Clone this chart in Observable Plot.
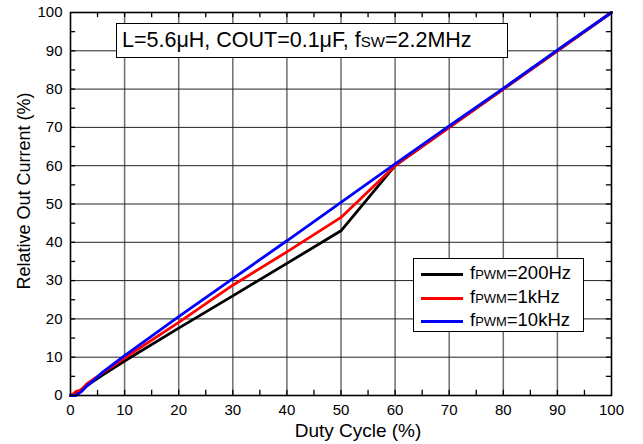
<!DOCTYPE html>
<html>
<head>
<meta charset="utf-8">
<script src="https://cdn.jsdelivr.net/npm/d3@7"></script>
<script src="https://cdn.jsdelivr.net/npm/@observablehq/plot@0.6"></script>
<style>
  html, body { margin: 0; padding: 0; background: #fff; }
  #wrap { position: relative; width: 643px; height: 444px; font-family: Arial, "Liberation Sans", sans-serif; color: #000; }
  .ov { position: absolute; white-space: nowrap; }
  .box { position: absolute; background: #fff; border: 1px solid #000; box-sizing: border-box; }
  .sub { font-size: 0.7em; }
</style>
</head>
<body>
<div id="wrap"></div>
<script>
// ---- data ----
const seriesNames = ["200Hz", "1kHz", "10kHz"];
const seriesColors = ["#000000", "#ff0000", "#0000ff"];
const duty200 = [0, 1, 2, 4, 6, 10, 20, 30, 40, 50, 60, 70, 80, 90, 100];
const out200  = [0, 0.5, 1.5, 3.5, 5.4, 9.0, 17.6, 26.0, 34.5, 43.0, 60, 70, 80, 90, 100];
const duty1k  = [0, 0.5, 1, 2, 3, 4, 6, 10, 20, 30, 40, 50, 60, 70, 80, 90, 100];
const out1k   = [0, 0.4, 1.0, 1.5, 3.0, 4.0, 6.0, 9.8, 19.1, 28.8, 37.5, 46.5, 60, 70, 80, 90, 100];
const duty10k = [0, 1, 2, 3, 4, 6, 10, 20, 30, 40, 50, 60, 70, 80, 92, 100];
const out10k  = [0, 0, 1.0, 2.5, 3.6, 6.2, 10.4, 20.6, 30.5, 40.4, 50.4, 60.5, 70.4, 80.2, 92.2, 100];
const xTicks = [0, 10, 20, 30, 40, 50, 60, 70, 80, 90, 100];
const yTicks = [0, 10, 20, 30, 40, 50, 60, 70, 80, 90, 100];
const gridVals = [10, 20, 30, 40, 50, 60, 70, 80, 90];
const minorVals = [5, 15, 25, 35, 45, 55, 65, 75, 85, 95];
const xLabel = "Duty Cycle (%)";
const yLabel = "Relative Out Current (%)";

const series = [
  {name: seriesNames[0], xs: duty200, ys: out200},
  {name: seriesNames[1], xs: duty1k, ys: out1k},
  {name: seriesNames[2], xs: duty10k, ys: out10k}
];
const rows = series.flatMap(s => s.xs.map((x, i) => ({series: s.name, duty: x, out: s.ys[i]})));

const tickLenY = 1.35; // data units (~5px)
const tickLenX = 0.95;
const allTicks = minorVals.concat(gridVals);

const chart = Plot.plot({
  width: 643,
  height: 444,
  marginLeft: 70,
  marginRight: 32,
  marginTop: 12,
  marginBottom: 49,
  style: {fontFamily: "Arial, 'Liberation Sans', sans-serif", background: "transparent", color: "#000"},
  x: {domain: [0, 100]},
  y: {domain: [0, 100]},
  color: {domain: seriesNames, range: seriesColors},
  marks: [
    Plot.ruleX(gridVals, {stroke: "#6e6e6e", strokeWidth: 1.5}),
    Plot.ruleY(gridVals, {stroke: "#222", strokeWidth: 1}),
    // inward ticks on four sides
    Plot.ruleX(allTicks, {y1: 0, y2: tickLenY, stroke: "#000", strokeWidth: 1.3}),
    Plot.ruleX(allTicks, {y1: 100, y2: 100 - tickLenY, stroke: "#000", strokeWidth: 1.3}),
    Plot.ruleY(allTicks, {x1: 0, x2: tickLenX, stroke: "#000", strokeWidth: 1.3}),
    Plot.ruleY(allTicks, {x1: 100, x2: 100 - tickLenX, stroke: "#000", strokeWidth: 1.3}),
    Plot.line(rows, {x: "duty", y: "out", z: "series", stroke: "series", strokeWidth: 2.8, strokeLinejoin: "miter"}),
    Plot.frame({stroke: "#000", strokeWidth: 1.6}),
    Plot.axisX({ticks: xTicks, tickSize: 0, tickPadding: 9, fontSize: 15, label: null}),
    Plot.axisY({ticks: yTicks, tickSize: 0, tickPadding: 8, fontSize: 15, label: null})
  ]
});

const wrap = document.getElementById("wrap");
chart.style.position = "absolute";
chart.style.left = "0px";
chart.style.top = "0px";
wrap.appendChild(chart);

// annotation box
const ann = document.createElement("div");
ann.className = "box";
Object.assign(ann.style, {left: "116px", top: "23px", width: "392px", height: "35px"});
wrap.appendChild(ann);
const annText = document.createElement("div");
annText.className = "ov";
Object.assign(annText.style, {left: "122px", top: "27px", fontSize: "21.5px", lineHeight: "26px"});
annText.innerHTML = "L=5.6\u03bcH, COUT=0.1\u03bcF, f<span class='sub'>SW</span>=2.2MHz";
wrap.appendChild(annText);

// legend
const leg = document.createElement("div");
leg.className = "box";
Object.assign(leg.style, {left: "413px", top: "258px", width: "171px", height: "74px"});
wrap.appendChild(leg);
const legY = [274, 298, 321];
series.forEach((s, i) => {
  const ln = document.createElement("div");
  ln.className = "ov";
  Object.assign(ln.style, {left: "421px", top: (legY[i] - 1.5) + "px", width: "42px", height: "3px", background: seriesColors[i]});
  wrap.appendChild(ln);
  const t = document.createElement("div");
  t.className = "ov";
  Object.assign(t.style, {left: "470px", top: (legY[i] - 12) + "px", fontSize: "18.5px", lineHeight: "22px"});
  t.innerHTML = "f<span class='sub'>PWM</span>=" + s.name;
  wrap.appendChild(t);
});

// axis titles
const xl = document.createElement("div");
xl.className = "ov";
Object.assign(xl.style, {left: "358px", top: "421px", fontSize: "19px", lineHeight: "20px", transform: "translateX(-50%)"});
xl.textContent = xLabel;
wrap.appendChild(xl);

const yl = document.createElement("div");
yl.className = "ov";
Object.assign(yl.style, {left: "24px", top: "191px", fontSize: "18px", lineHeight: "22px", transform: "translate(-50%, -50%) rotate(-90deg)"});
yl.textContent = yLabel;
wrap.appendChild(yl);
</script>
</body>
</html>
